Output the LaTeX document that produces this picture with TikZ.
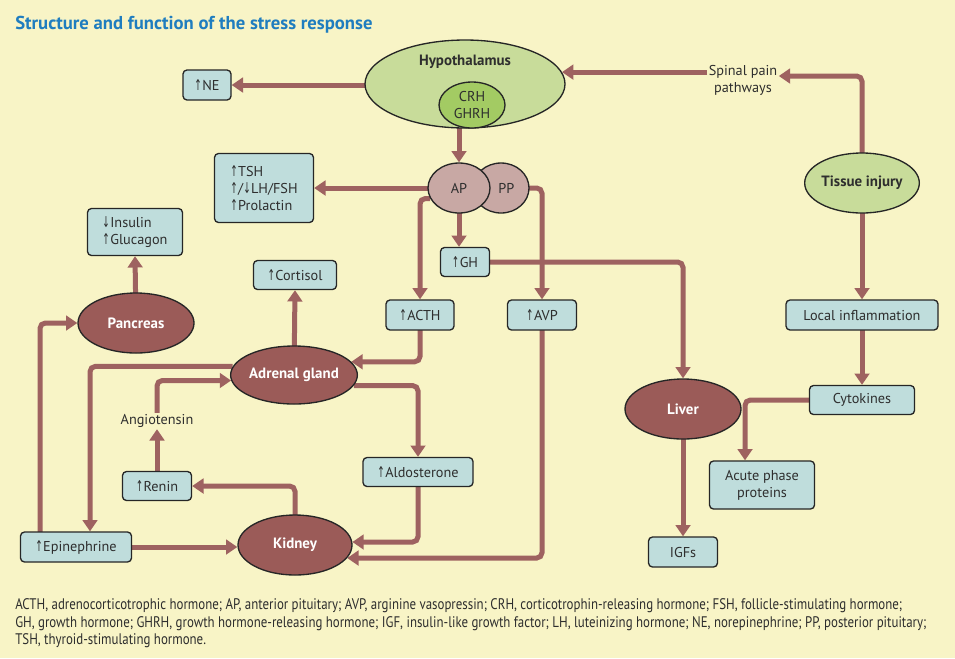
\documentclass[tikz,border=0pt]{standalone}
\usepackage{fontspec}
\setmainfont{PT Sans}
\newfontfamily\arrfont{DejaVu Sans}
\newfontfamily\notefont[FakeStretch=0.84]{PT Sans}
\usetikzlibrary{arrows.meta,shapes.geometric}
\newcommand\upar{\scalebox{0.62}[1.05]{\arrfont\char"2191}\kern0.3pt}
\newcommand\dnar{\scalebox{0.62}[1.05]{\arrfont\char"2193}\kern0.3pt}
\definecolor{bgc}{HTML}{F8F4C6}
\definecolor{boxc}{HTML}{BFDDDC}
\definecolor{grn}{HTML}{C8DC9A}
\definecolor{grn2}{HTML}{A3CB63}
\definecolor{pit}{HTML}{C8A8A4}
\definecolor{org}{HTML}{9B5B58}
\definecolor{arrc}{HTML}{9E6260}
\definecolor{txt}{HTML}{2E2E2E}
\definecolor{ttl}{HTML}{1F7DBF}
\pgfdeclarelayer{bg}\pgfdeclarelayer{mid}\pgfsetlayers{bg,mid,main}
\begin{document}
\begin{tikzpicture}[x=0.75pt,y=-0.75pt,
 lab/.style={font=\fontsize{10.7}{12.7}\selectfont,text=txt},
 box/.style={lab,draw=black!85,line width=1pt,fill=boxc,rounded corners=3pt,inner sep=0pt},
 ell/.style={ellipse,draw=black!85,line width=1pt,inner sep=0pt},
 organ/.style={ell,fill=org,text=white,font=\fontsize{11.2}{13}\selectfont\bfseries},
 gland/.style={ell,fill=grn,text=txt,font=\fontsize{11.2}{13}\selectfont\bfseries},
 arr/.style={draw=arrc,line width=3.75pt,rounded corners=4pt,-{Triangle[width=11pt,length=8.5pt]}}]
\begin{pgfonlayer}{bg}
\fill[bgc] (0,0) rectangle (955,658);
\end{pgfonlayer}
\useasboundingbox (0,0) rectangle (955,658);
\node[anchor=west,text=ttl,font=\fontsize{14}{16}\selectfont\bfseries,inner sep=0pt] (title) at (15,25) {Structure and function of the stress response};
% hypothalamus
\node[gland,minimum width=150pt,minimum height=66pt] (hypo) at (465,84) {};
\node[lab,font=\fontsize{11.2}{13}\selectfont\bfseries,inner sep=0pt] (hypotext) at (465,62) {Hypothalamus};
\node[ell,fill=grn2,minimum width=49.5pt,minimum height=34.5pt,lab,align=center] (crh) at (472,105) {CRH\\GHRH};
\node[ell,fill=pit,minimum width=42pt,minimum height=37.5pt,lab] (pp) at (501,188) {\hspace{8pt}PP};
\node[ell,fill=pit,minimum width=46.5pt,minimum height=37.5pt,lab] (ap) at (459,188) {AP};
\node[gland,minimum width=85.5pt,minimum height=45pt] (tissue) at (862,183) {Tissue injury};
\node[organ,minimum width=87pt,minimum height=45pt] (liver) at (683,409) {Liver};
\node[organ,minimum width=85.5pt,minimum height=43.5pt] (adrenal) at (294,375) {Adrenal gland};
\node[organ,minimum width=85.5pt,minimum height=45pt] (kidney) at (295,545) {Kidney};
\node[organ,minimum width=87pt,minimum height=45pt] (pancreas) at (136,323) {Pancreas};
% boxes
\node[box,minimum width=36pt,minimum height=22.5pt] (ne) at (207,85) {\upar NE};
\node[box,minimum width=74.25pt,minimum height=51.75pt,align=left] (tsh) at (264,188) {\upar TSH\\\upar/\dnar LH/FSH\\\upar Prolactin};
\node[box,minimum width=71.25pt,minimum height=35.25pt,align=left] (insulin) at (135,232) {\dnar Insulin\\\upar Glucagon};
\node[box,minimum width=62.25pt,minimum height=21.75pt] (cortisol) at (295,275) {\upar Cortisol};
\node[box,minimum width=36.75pt,minimum height=21.75pt] (gh) at (465,262) {\upar GH};
\node[box,minimum width=51pt,minimum height=22.5pt] (acth) at (420,315) {\upar ACTH};
\node[box,minimum width=51.75pt,minimum height=22.5pt] (avp) at (542,315) {\upar AVP};
\node[box,minimum width=114pt,minimum height=22.5pt] (locinf) at (862,315) {Local inflammation};
\node[box,minimum width=78.75pt,minimum height=21.75pt] (cyto) at (862,400) {Cytokines};
\node[box,minimum width=78.75pt,minimum height=36pt,align=center] (acute) at (762,485) {Acute phase\\proteins};
\node[box,minimum width=51.75pt,minimum height=22.5pt] (igfs) at (683,552) {IGFs};
\node[box,minimum width=82.5pt,minimum height=21.75pt] (aldo) at (418,472) {\upar Aldosterone};
\node[box,minimum width=51.75pt,minimum height=21.75pt] (renin) at (157,486) {\upar Renin};
\node[box,minimum width=83.25pt,minimum height=22.5pt] (epi) at (76,547) {\upar Epinephrine};
% text nodes
\node[lab,align=center,inner sep=1pt] (spinal) at (743,80) {Spinal pain\\pathways};
\node[lab,inner sep=1pt] (angio) at (157,421) {Angiotensin};
% connectors
\begin{pgfonlayer}{mid}
\draw[arr] (hypo.center |- ne.east) -- (ne.east);
\draw[arr] (spinal.west |- hypo.7) -- (hypo.7);
\draw[arr] (tissue.center) |- ([yshift=3pt]spinal.east);
\draw[arr] (tissue.center) -- (locinf.north);
\draw[arr] (locinf.center) -- (cyto.north);
\draw[arr] (cyto.center) -| ([xshift=-12.75pt]acute.north);
\draw[arr] (liver.center) -- (igfs.north);
\draw[arr] (gh.center) -| (liver.north);
\draw[arr] (ap.north |- crh.center) -- (ap.north);
\draw[arr] (ap.center) -- (tsh.east);
\draw[arr] (ap.center) -- (ap.center |- gh.north);
\draw[arr] (ap.200) -| (acth.north);
\draw[arr] (pp.center) -| (avp.north);
\draw[arr] (acth.center) |- (adrenal.13);
\draw[arr] (avp.center) |- (kidney.-14);
\draw[arr] (aldo.center) |- (kidney.3);
\draw[arr] (adrenal.center) -- (cortisol.south);
\draw[arr] (adrenal.-10) -| (aldo.north);
\draw[arr] (adrenal.172) -| ([xshift=10.5pt]epi.north);
\draw[arr] ([xshift=-27pt]epi.center) |- (pancreas.west);
\draw[arr] (pancreas.center) -- (insulin.south);
\draw[arr] (epi.center) -- (epi.center -| kidney.west);
\draw[arr] (kidney.center) |- (renin.east);
\draw[arr] (renin.center) -- (angio.south);
\draw[arr] (angio.north) |- (adrenal.185);
\end{pgfonlayer}
% footnote
\node[anchor=north west,inner sep=0pt,align=left,text=txt,font=\notefont\fontsize{11.5}{13.4}\selectfont] (note) at (15,598) {ACTH, adrenocorticotrophic hormone; AP, anterior pituitary; AVP, arginine vasopressin; CRH, corticotrophin-releasing hormone; FSH, follicle-stimulating hormone;\\GH, growth hormone; GHRH, growth hormone-releasing hormone; IGF, insulin-like growth factor; LH, luteinizing hormone; NE, norepinephrine; PP, posterior pituitary;\\TSH, thyroid-stimulating hormone.};
\end{tikzpicture}
\end{document}
